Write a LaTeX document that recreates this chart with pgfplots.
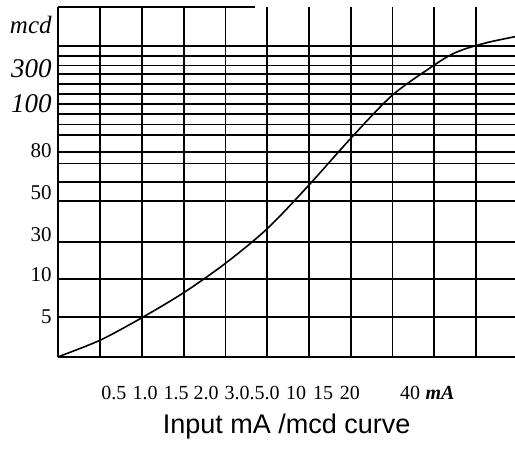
\documentclass[border=0pt]{standalone}
\usepackage{pgfplots}
\pgfplotsset{compat=1.18}
\usepackage{fontspec}
\setmainfont{Liberation Serif}
\newfontfamily\capfont{Liberation Sans}

\newcommand{\lab}{\fontsize{21bp}{21bp}\selectfont}
\newcommand{\bigit}{\fontsize{27bp}{27bp}\selectfont\itshape}

\begin{document}
\begin{tikzpicture}
\begin{axis}[
    at={(58.3bp,-356.7bp)}, anchor=south west,
    scale only axis,
    width=456.7bp, height=350bp,
    xmin=0, xmax=10.93, ymin=0, ymax=350,
    axis lines*=left,
    axis line style={black, line width=2.2bp},
    % grid lines
    minor xtick={1,2,...,10},
    minor ytick={39.4,77.4,115,155.4,175,193.2,205,221.4,232.2,242.4,252.7,262.7,273,282.7,291.2,300.7,310.4},
    xminorgrids=true, yminorgrids=true,
    minor grid style={black, line width=1.8bp},
    major tick length=0pt, minor tick length=0pt,
    % labels
    xtick={1.333,2.075,2.817,3.535,4.636,5.689,6.335,6.981,8.418,9.135},
    xticklabels={0.5,1.0,1.5,2.0,3.0.5.0,10,15,20,40,\textbf{\textit{mA}}},
    xticklabel style={font=\fontsize{20bp}{20bp}\selectfont, anchor=center, yshift=-36bp},
    ytick={40,81.7,121.7,163.7,206,253.4,288.4,331.7},
    yticklabels={5,10,30,50,80,{\bigit 100},{\bigit 300},{\fontsize{25bp}{25bp}\selectfont\itshape mcd}},
    yticklabel style={font=\lab, anchor=east, inner sep=0pt, xshift=-6.5bp},
    xlabel={Input mA /mcd curve},
    xlabel style={font=\capfont\fontsize{27bp}{27bp}\selectfont,
        at={(axis description cs:0.5,0)}, anchor=center, yshift=-70.3bp},
    clip=false,
]
% top border only over the left part
\draw[black, line width=1.8bp] (axis cs:0,350) -- (axis cs:4.7,350);

\addplot[black, line width=1.6bp, smooth] coordinates {
    (0,0) (1.0,16.5) (2.0,39) (3.0,64) (4.0,93.4) (5.0,128)
    (6.0,171.7) (7.0,218.4) (8.0,261.7) (9.0,291.7) (9.4,302)
    (9.75,308) (10.3,314.5) (10.93,320)
};
\end{axis}
\pgfresetboundingbox
\path[use as bounding box] (0,0) rectangle (515bp,-452bp);
\end{tikzpicture}
\end{document}
